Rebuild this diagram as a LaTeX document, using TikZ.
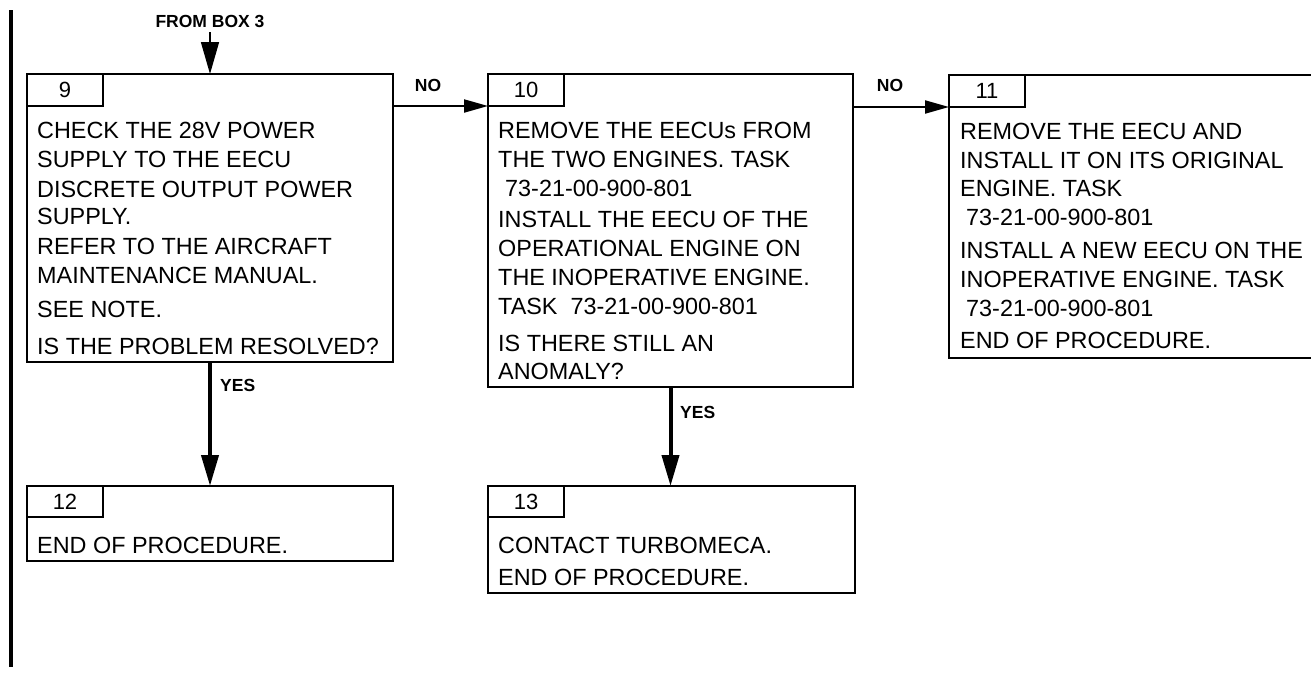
\documentclass[tikz,border=0pt]{standalone}
\usepackage{fontspec}
\setmainfont{Liberation Sans}
\usetikzlibrary{arrows.meta}
\tikzset{
  box/.style={draw, line width=2.5pt, anchor=north west, inner sep=0pt, outer sep=0pt},
  tabbox/.style={draw, line width=2.2pt, anchor=north west, inner sep=0pt, outer sep=0pt,
    minimum width=76pt, minimum height=32pt, font=\fontsize{22}{24}\selectfont},
  txt/.style={anchor=base west, inner sep=0pt, font=\fontsize{23.4}{28}\selectfont},
  lbl/.style={inner sep=0pt, font=\bfseries\fontsize{17.5}{20}\selectfont},
  varr/.style={line width=4pt, -{Triangle[length=31pt,width=17pt]}},
  harr/.style={line width=2pt, -{Triangle[length=24pt,width=13pt]}},
  tarr/.style={line width=1.5pt, -{Triangle[length=32pt,width=18pt]}},
}
\begin{document}
\begin{tikzpicture}[x=1pt,y=-1pt]
\clip (0,0) rectangle (1311,673);
\fill[white] (0,0) rectangle (1311,673);

% left bar
\coordinate (bartop) at (11,10);
\coordinate (barbot) at (11,667);
\draw[line width=4pt] (bartop) -- (barbot);

% boxes
\node[box, minimum width=366pt, minimum height=288pt] (b9) at (27,74) {};
\node[box, minimum width=365pt, minimum height=313pt] (b10) at (488,74) {};
\node[box, minimum width=380pt, minimum height=283pt] (b11) at (949,75) {};
\node[box, minimum width=366pt, minimum height=75pt] (b12) at (27,486) {};
\node[box, minimum width=367pt, minimum height=107pt] (b13) at (488,486) {};

% tabs
\node[tabbox] (t9) at (b9.north west) {9};
\node[tabbox] (t10) at (b10.north west) {10};
\node[tabbox] (t11) at (b11.north west) {11};
\node[tabbox, minimum height=31pt] (t12) at (b12.north west) {12};
\node[tabbox, minimum height=31pt] (t13) at (b13.north west) {13};

% box 9 text
\node[txt] (l9a) at (37,138) {CHECK THE 28V POWER};
\node[txt] (l9b) at (37,167.5) {SUPPLY TO THE EECU};
\node[txt] (l9c) at (37,197.5) {DISCRETE OUTPUT POWER};
\node[txt] (l9d) at (37,224.5) {SUPPLY.};
\node[txt] (l9e) at (37,254.5) {REFER TO THE AIRCRAFT};
\node[txt] (l9f) at (37,283.5) {MAINTENANCE MANUAL.};
\node[txt] (l9g) at (37,317.5) {SEE NOTE.};
\node[txt] (l9h) at (37,354.5) {IS THE PROBLEM RESOLVED?};

% box 10 text
\node[txt] (l10a) at (498,138) {REMOVE THE EECUs FROM};
\node[txt] (l10b) at (498,167.5) {THE TWO ENGINES. TASK};
\node[txt] (l10c) at (505,196.5) {73-21-00-900-801};
\node[txt] (l10d) at (498,227.5) {INSTALL THE EECU OF THE};
\node[txt] (l10e) at (498,256.5) {OPERATIONAL ENGINE ON};
\node[txt] (l10f) at (498,285.5) {THE INOPERATIVE ENGINE.};
\node[txt] (l10g) at (498,314.5) {TASK\ \ 73-21-00-900-801};
\node[txt] (l10h) at (498,351.5) {IS THERE STILL AN};
\node[txt] (l10i) at (498,379.5) {ANOMALY?};

% box 11 text
\node[txt] (l11a) at (960,139.5) {REMOVE THE EECU AND};
\node[txt] (l11b) at (960,168.5) {INSTALL IT ON ITS ORIGINAL};
\node[txt] (l11c) at (960,196.5) {ENGINE. TASK};
\node[txt] (l11d) at (966,225.5) {73-21-00-900-801};
\node[txt] (l11e) at (960,258.5) {INSTALL A NEW EECU ON THE};
\node[txt] (l11f) at (960,287.5) {INOPERATIVE ENGINE. TASK};
\node[txt] (l11g) at (966,316.5) {73-21-00-900-801};
\node[txt] (l11h) at (960,348.5) {END OF PROCEDURE.};

% box 12 / 13 text
\node[txt] (l12a) at (37,553) {END OF PROCEDURE.};
\node[txt] (l13a) at (498,553) {CONTACT TURBOMECA.};
\node[txt] (l13b) at (498,585) {END OF PROCEDURE.};

% labels
\node[lbl] (from) at (210,21) {FROM BOX 3};
\node[lbl] (no1) at (428,85) {NO};
\node[lbl] (no2) at (890,85) {NO};
\node[lbl, anchor=west] (yes1) at (220,385) {YES};
\node[lbl, anchor=west] (yes2) at (680,412) {YES};

% connectors
\coordinate (fromend) at (210,32);
\draw[tarr] (fromend) -- (b9.north);
\draw[harr] (b9.east |- t10.south west) -- (t10.south west);
\draw[harr] (b10.east |- t11.south west) -- (t11.south west);
\draw[varr] (b9.south) -- (b12.north);
\draw[varr] (b10.south) -- (b10.south |- b13.north);
\end{tikzpicture}
\end{document}
